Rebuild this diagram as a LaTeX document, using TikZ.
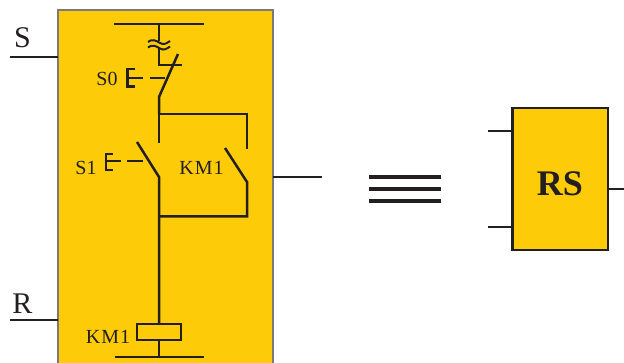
\documentclass[tikz,border=0pt]{standalone}
\usepackage{fontspec}
\setmainfont{Liberation Serif}
\definecolor{amber}{HTML}{FDCB08}
\definecolor{ink}{HTML}{231F20}
\tikzset{
  wire/.style={draw=ink,line width=2.5pt,line cap=butt},
  thinwire/.style={draw=ink,line width=2pt},
  lbl/.style={text=ink,inner sep=0pt,font=\fontsize{20}{20}\selectfont},
  biglbl/.style={text=ink,inner sep=0pt,font=\fontsize{30}{30}\selectfont},
  eqbar/.style={draw=ink,line width=3.8pt},
}
\begin{document}
\begin{tikzpicture}[x=1pt,y=-1pt]
\useasboundingbox (0,0) rectangle (624,363);
% panel
\fill[amber] (58,10) rectangle (273,363);
\draw[draw=ink!60,line width=1.2pt] (58,363) -- (58,10) -- (273,10) -- (273,363);
% left terminals
\node[biglbl] (s) at (22.5,38) {S};
\node[biglbl] (r) at (22.5,304) {R};
\coordinate (sa) at (10,57); \coordinate (sb) at (58,57);
\coordinate (ra) at (10,320); \coordinate (rb) at (58,320);
\draw[thinwire] (sa) -- (sb);
\draw[thinwire] (ra) -- (rb);
% top rail and fuse
\draw[wire] (114,24) -- (204,24);
\draw[wire] (159,24) -- (159,41);
\draw[thinwire] (148,42) .. controls (152,38.5) and (156,40.5) .. (160,43) .. controls (164,45.5) and (167,43) .. (170,41);
\draw[thinwire] (148,47.5) .. controls (152,44) and (156,46) .. (160,48.5) .. controls (164,51) and (167,48.5) .. (170,46.5);
\draw[wire] (159,48) -- (159,65) -- (182,65);
% S0 contact
\draw[wire] (178,54) -- (159,97) -- (159,114);
\draw[wire] (135,69) -- (127.5,69) -- (127.5,86.5) -- (135,86.5);
\draw[thinwire] (127.5,78) -- (143,78);
\draw[thinwire] (150,78) -- (165,78);
\node[lbl] (s0) at (107,78.5) {S0};
% parallel branch
\draw[wire] (159,143) -- (159,114) -- (247,114) -- (247,149);
\draw[wire] (137,142) -- (159,177) -- (159,323.5);
\draw[wire] (225,148) -- (247,182) -- (247,216.5) -- (159,216.5);
% S1 contact
\draw[wire] (113,154) -- (106,154) -- (106,170) -- (113,170);
\draw[thinwire] (106,161.5) -- (121,161.5);
\draw[thinwire] (127,161.5) -- (143,161.5);
\node[lbl] (s1) at (86,167.5) {S1};
\node[lbl] (km1a) at (201.5,167.5) {K\kern1pt M\kern1pt 1};
% coil
\node[draw=ink,line width=2.5pt,minimum width=44pt,minimum height=16pt,inner sep=0pt,anchor=center] (coil) at (159,332) {};
\node[lbl] (km1b) at (108,337) {K\kern1pt M\kern1pt 1};
\coordinate (bus) at (159,357);
\draw[wire] (coil.south) -- (bus);
\draw[wire] (114.5,357) -- (204,357);
% output
\coordinate (oa) at (273,177); \coordinate (ob) at (322,177);
\draw[thinwire] (oa) -- (ob);
% equivalence
\foreach \yy in {177,189,201} \draw[eqbar] (369,\yy) -- (441,\yy);
% RS block
\node[draw=ink,fill=amber,line width=2.5pt,minimum width=95.5pt,minimum height=142pt,inner sep=0pt] (rs) at (560,179) {};
\node[text=ink,inner sep=0pt,font=\fontsize{36}{36}\selectfont\bfseries] (rst) at (560,184) {RS};
\coordinate (i1) at (488,131); \coordinate (i1b) at (512,131);
\coordinate (i2) at (488,227); \coordinate (i2b) at (512,227);
\coordinate (o1) at (608,189); \coordinate (o2) at (624,189);
\draw[thinwire] (i1) -- (i1b);
\draw[thinwire] (i2) -- (i2b);
\draw[thinwire] (o1) -- (o2);
\end{tikzpicture}
\end{document}
